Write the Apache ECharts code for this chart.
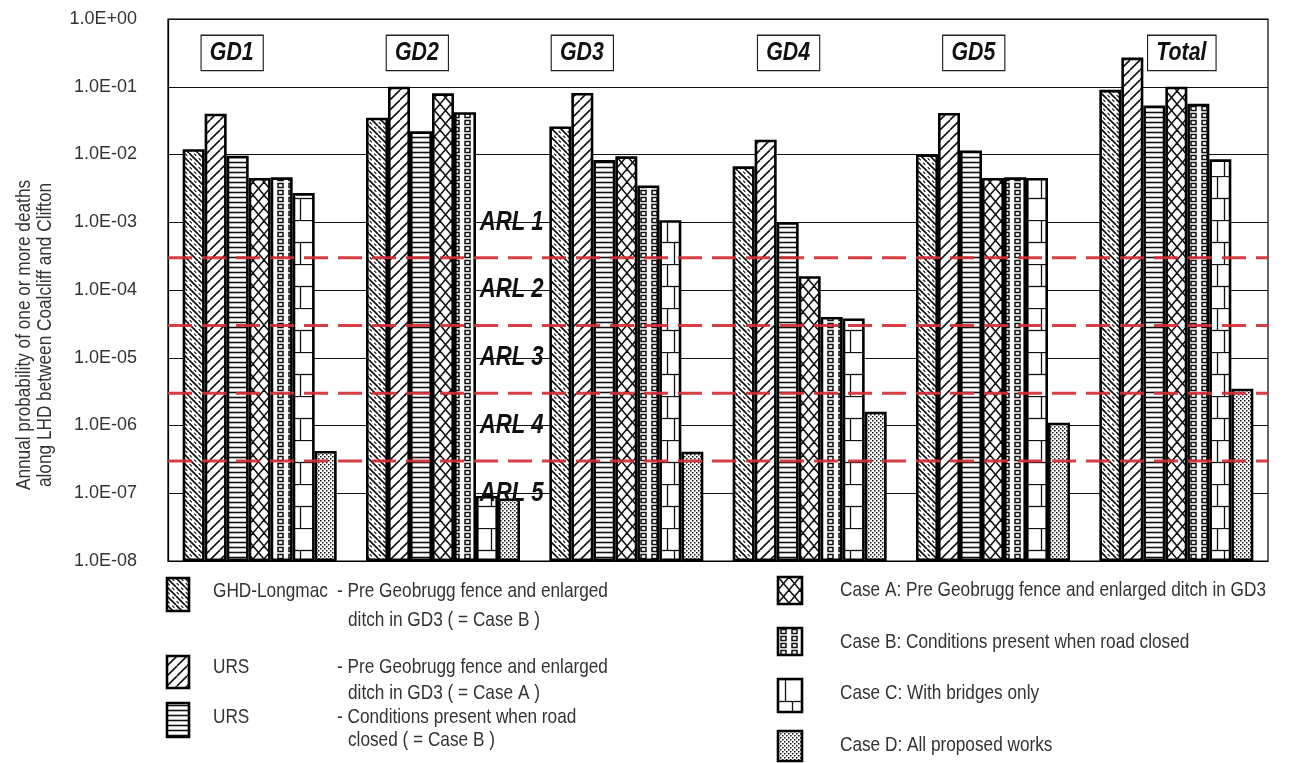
<!DOCTYPE html>
<html>
<head>
<meta charset="utf-8">
<script src="https://cdn.jsdelivr.net/npm/echarts@6/dist/echarts.min.js"></script>
<style>
  html, body { margin: 0; padding: 0; background: #fff; }
  #chart { width: 1290px; height: 763px; }
</style>
</head>
<body>
<div id="chart"></div>
<script>
// Road sections and annual probability of one or more deaths per case
const sections = ['GD1', 'GD2', 'GD3', 'GD4', 'GD5', 'Total'];
const ghdPreFence   = [1.2e-2, 3.5e-2, 2.6e-2, 6.7e-3, 1.0e-2, 9.0e-2];
const ursPreFence   = [4.0e-2, 1.0e-1, 8.1e-2, 1.65e-2, 4.1e-2, 2.7e-1];
const ursRoadClosed = [9.6e-3, 2.2e-2, 8.3e-3, 1.0e-3, 1.15e-2, 5.3e-2];
const caseA = [4.5e-3, 8.0e-2, 9.4e-3, 1.6e-4, 4.5e-3, 1.0e-1];
const caseB = [4.6e-3, 4.2e-2, 3.5e-3, 4.0e-5, 4.6e-3, 5.6e-2];
const caseC = [2.7e-3, 9.1e-8, 1.07e-3, 3.8e-5, 4.5e-3, 8.5e-3];
const caseD = [4.2e-7, 8.4e-8, 4.1e-7, 1.6e-6, 1.1e-6, 3.5e-6];

// Axis tick labels, one per decade from 1e-8 up to 1e0
const yTickLabels = ['1.0E-08', '1.0E-07', '1.0E-06', '1.0E-05', '1.0E-04',
                     '1.0E-03', '1.0E-02', '1.0E-01', '1.0E+00'];

// Acceptable risk level boundaries and their band labels
const arlBounds = [3e-4, 3e-5, 3e-6, 3e-7];
const arlNames = ['ARL 1', 'ARL 2', 'ARL 3', 'ARL 4', 'ARL 5'];
const arlLabelValues = [1e-3, 1e-4, 1e-5, 1e-6, 1e-7];
const arlLabelX = 1.2;

// Section name boxes, positioned along the category index scale
const sectionLabelX = [-0.15, 0.86, 1.76, 2.885, 3.895, 5.03];
const sectionLabelY = 0.316;

// index-scale extent of the plot (one unit per section)
const indexMin = -0.5, indexMax = 5.5;

const FONT = '"Liberation Sans", Arial, Helvetica, sans-serif';
const NARROW = 0.82;   // horizontal squeeze giving a narrow sans look
const INK = '#111';

// ---- hatch tiles -------------------------------------------------------
function tile(w, h, draw) {
  const c = document.createElement('canvas');
  c.width = w; c.height = h;
  const g = c.getContext('2d');
  g.fillStyle = '#fff';
  g.fillRect(0, 0, w, h);
  g.strokeStyle = INK;
  g.fillStyle = INK;
  draw(g, w, h);
  return { image: c, repeat: 'repeat' };
}
function line(g, x1, y1, x2, y2, lw) {
  g.lineWidth = lw;
  g.beginPath(); g.moveTo(x1, y1); g.lineTo(x2, y2); g.stroke();
}

const patBackDashed = tile(9, 9, (g, w, h) => {
  for (const k of [-w, 0, w]) line(g, k, 0, k + w, h, 1.7);
  line(g, 5.2, 0.7, 7.3, 2.8, 1.2);
  line(g, 0.7, 5.2, 2.8, 7.3, 1.2);
});
const patForward = tile(10, 10, (g, w, h) => {
  for (const k of [-w, 0, w]) line(g, k, h, k + h, 0, 1.6);
});
const patHorizontal = tile(4, 5, (g, w) => {
  line(g, 0, 2.5, w, 2.5, 1.6);
});
const patCross = tile(11, 13, (g, w, h) => {
  line(g, 0, 0, w, h, 1.5);
  line(g, w, 0, 0, h, 1.5);
});
const patSquares = tile(11, 7, (g) => {
  g.lineWidth = 1.5;
  g.strokeRect(3, 1.5, 5, 4);
});
const patBrick = tile(22, 44, (g, w) => {
  line(g, 0, 0.5, w, 0.5, 1.3);
  line(g, 0, 22.5, w, 22.5, 1.3);
  line(g, 7.5, 0, 7.5, 22, 1.3);
  line(g, 14.5, 22, 14.5, 44, 1.3);
});
const patStipple = tile(4, 4, (g) => {
  g.fillRect(0, 0, 1.5, 1.5);
  g.fillRect(2, 2, 1.5, 1.5);
});

const seriesDefs = [
  { name: 'GHD-Longmac pre fence', data: ghdPreFence, pat: patBackDashed },
  { name: 'URS pre fence', data: ursPreFence, pat: patForward },
  { name: 'URS road closed', data: ursRoadClosed, pat: patHorizontal },
  { name: 'Case A', data: caseA, pat: patCross },
  { name: 'Case B', data: caseB, pat: patSquares },
  { name: 'Case C', data: caseC, pat: patBrick },
  { name: 'Case D', data: caseD, pat: patStipple }
];

const chart = echarts.init(document.getElementById('chart'), null, { renderer: 'canvas' });

const barSeries = seriesDefs.map(s => ({
  type: 'bar',
  name: s.name,
  data: s.data,
  barWidth: 22,
  barGap: '0%',
  itemStyle: { color: s.pat, borderColor: '#000', borderWidth: 2.6 },
  emphasis: { disabled: true },
  z: 2
}));

// red dashed ARL boundaries spanning the whole plot width
const boundSeries = arlBounds.map(v => ({
  type: 'line',
  xAxisIndex: 1,
  data: [[indexMin, v], [indexMax, v]],
  symbol: 'none',
  silent: true,
  lineStyle: { color: '#d42f35', width: 3, type: [24, 10], opacity: 0.92 },
  z: 4
}));

// invisible anchor points on the index scale; annotations are placed from them
const anchorSeries = {
  type: 'scatter',
  xAxisIndex: 1,
  symbolSize: 0,
  silent: true,
  data: []
};

// ---- legend drawn as graphic swatches and text --------------------------
function swatch(x, y, w, h, pat) {
  return { type: 'rect', x: x, y: y, shape: { width: w, height: h },
           style: { fill: pat, stroke: '#000', lineWidth: 2.6 }, z: 10 };
}
function txt(x, y, s) {
  return { type: 'text', x: x, y: y, scaleX: NARROW, z: 10,
           style: { text: s, font: '21px ' + FONT, fill: '#333',
                    textAlign: 'left', textVerticalAlign: 'middle' } };
}
const legendGraphics = [
  swatch(167, 578, 22, 33, patBackDashed),
  txt(213, 591, 'GHD-Longmac'),
  txt(337, 591, '- Pre Geobrugg fence and enlarged'),
  txt(348, 620, 'ditch in GD3 ( = Case B )'),

  swatch(167, 656, 22, 32, patForward),
  txt(213, 667, 'URS'),
  txt(337, 667, '- Pre Geobrugg fence and enlarged'),
  txt(348, 693, 'ditch in GD3 ( = Case A )'),

  swatch(167, 703, 22, 34, patHorizontal),
  txt(213, 717, 'URS'),
  txt(337, 717, '- Conditions present when road'),
  txt(348, 740, 'closed ( = Case B )'),

  swatch(778, 577, 24, 27, patCross),
  txt(840, 590, 'Case A: Pre Geobrugg fence and enlarged ditch in GD3'),
  swatch(778, 628, 24, 27, patSquares),
  txt(840, 642, 'Case B: Conditions present when road closed'),
  swatch(778, 679, 24, 33, patBrick),
  txt(840, 693, 'Case C: With bridges only'),
  swatch(778, 731, 24, 30, patStipple),
  txt(840, 745, 'Case D: All proposed works'),

  {
    type: 'text', x: 35, y: 335, rotation: Math.PI / 2, scaleX: NARROW, z: 10,
    style: {
      text: 'Annual probability of one or more deaths\nalong LHD between Coalcliff and Clifton',
      font: '21px ' + FONT, fill: '#333', lineHeight: 21,
      textAlign: 'center', textVerticalAlign: 'middle'
    }
  }
];

chart.setOption({
  animation: false,
  backgroundColor: '#fff',
  grid: {
    left: 168, right: 22, top: 19, bottom: 202,
    show: true, borderColor: '#000', borderWidth: 1.2, backgroundColor: 'transparent'
  },
  xAxis: [
    {
      type: 'category',
      data: sections,
      axisLine: { show: true, lineStyle: { color: '#000', width: 1.2 } },
      axisTick: { show: false },
      axisLabel: { show: false },
      splitLine: { show: false }
    },
    {
      type: 'value',
      min: indexMin, max: indexMax,
      show: false,
      axisLine: { show: false, onZero: false },
      splitLine: { show: false }
    }
  ],
  yAxis: {
    type: 'log',
    logBase: 10,
    min: 1e-8,
    max: 1,
    interval: 1,
    startValue: 1e-8,
    axisLine: { show: true, onZero: false, lineStyle: { color: '#000', width: 1.2 } },
    axisTick: { show: false },
    axisLabel: {
      margin: 31,
      fontFamily: FONT,
      fontSize: 18,
      color: '#333',
      formatter: v => yTickLabels[Math.round(Math.log10(v)) + 8]
    },
    splitLine: { show: true, lineStyle: { color: '#111', width: 1 } }
  },
  series: [...barSeries, ...boundSeries, anchorSeries],
  graphic: legendGraphics
});

// Section boxes and ARL band labels, placed through the chart's own scales
const toPx = (x, y) => chart.convertToPixel({ xAxisIndex: 1, yAxisIndex: 0 }, [x, y]);
const annotations = [];
sections.forEach((name, i) => {
  const p = toPx(sectionLabelX[i], sectionLabelY);
  annotations.push({
    type: 'text', x: p[0], y: p[1], scaleX: NARROW, z: 20,
    style: {
      text: name, font: 'italic bold 26px ' + FONT, fill: '#111',
      textAlign: 'center', textVerticalAlign: 'middle', lineHeight: 26,
      backgroundColor: '#fff', borderColor: '#222', borderWidth: 1.4,
      padding: [4, 11, 4, 10]
    }
  });
});
arlNames.forEach((name, i) => {
  const p = toPx(arlLabelX, arlLabelValues[i]);
  annotations.push({
    type: 'text', x: p[0], y: p[1], scaleX: NARROW, z: 20,
    style: {
      text: name, font: 'italic bold 27px ' + FONT, fill: '#111',
      textAlign: 'left', textVerticalAlign: 'middle'
    }
  });
});
chart.setOption({ graphic: legendGraphics.concat(annotations) });
</script>
</body>
</html>
